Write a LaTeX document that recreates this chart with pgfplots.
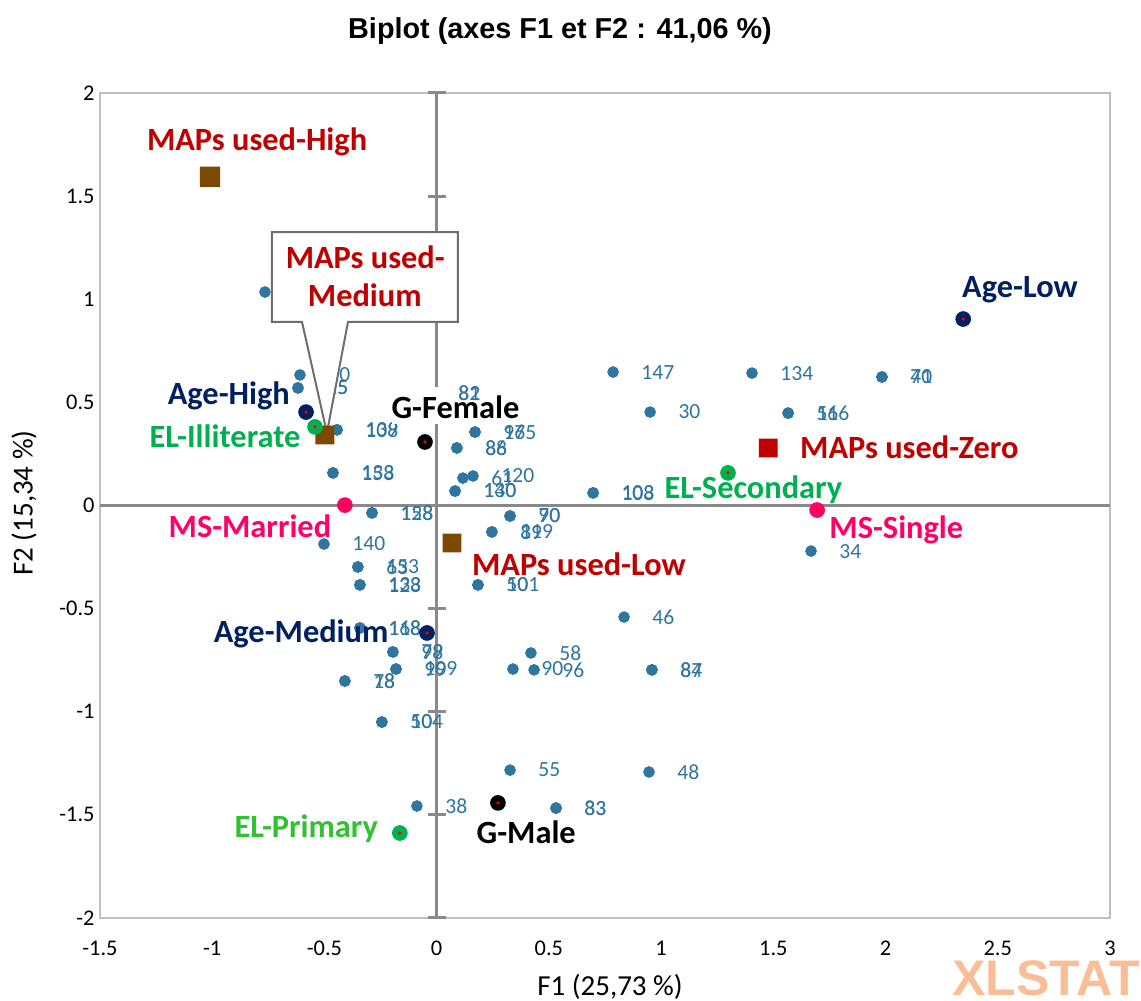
\documentclass[border=0pt]{standalone}
\usepackage{fontspec}
\setmainfont{Carlito}
\newfontfamily\arialfont{Liberation Sans}
\usepackage{pgfplots}
\pgfplotsset{compat=1.18}

\definecolor{obsblue}{HTML}{2E75A0}
\definecolor{mapsred}{HTML}{C00000}
\definecolor{mapsbrown}{HTML}{7B4A00}
\definecolor{agenavy}{HTML}{002060}
\definecolor{elgreen}{HTML}{00B050}
\definecolor{elgreenlight}{HTML}{33C033}
\definecolor{mspink}{HTML}{FF0066}
\definecolor{axgray}{HTML}{898989}
\definecolor{framegray}{HTML}{BFBFBF}
\definecolor{calloutgray}{HTML}{6E6E6E}
\definecolor{xlorange}{HTML}{F9BE96}

\tikzset{
  catlab/.style={font={\bfseries\fontsize{16.2}{19}\selectfont}, text height=10.4pt, text depth=0pt, inner sep=1pt},
  obsnode/.style={anchor=west, xshift=14pt, inner sep=0pt, font={\fontsize{10.8}{12}\selectfont}, text=obsblue},
}

\pgfplotsset{
  common/.style={
    width=505pt, height=412.5pt, scale only axis,
    xmin=-1.5, xmax=3, ymin=-2, ymax=2, clip=false,
    at={(0pt,0pt)}, anchor=south west,
  },
  obslab/.style={nodes near coords, point meta=explicit symbolic,
    every node near coord/.append style={obsnode}},
}

\pgfdeclareplotmark{rsq}{%
  \pgfsetcornersarced{\pgfpoint{0.4\pgfplotmarksize}{0.4\pgfplotmarksize}}%
  \pgfpathmoveto{\pgfpoint{0pt}{-\pgfplotmarksize}}%
  \pgfpathlineto{\pgfpoint{\pgfplotmarksize}{-\pgfplotmarksize}}%
  \pgfpathlineto{\pgfpoint{\pgfplotmarksize}{\pgfplotmarksize}}%
  \pgfpathlineto{\pgfpoint{-\pgfplotmarksize}{\pgfplotmarksize}}%
  \pgfpathlineto{\pgfpoint{-\pgfplotmarksize}{-\pgfplotmarksize}}%
  \pgfpathclose
  \pgfusepathqfill}

\pgfplotstableread{
x y lab
-0.765 1.035 12
-0.609 0.633 10
-0.618 0.570 55
-0.444 0.367 108
-0.462 0.158 133
0.171 0.356 165
0.090 0.279 86
0.117 0.133 61
0.162 0.143 120
0.082 0.070 130
0.697 0.061 108
-0.288 -0.036 128
-0.502 -0.187 140
-0.351 -0.298 63
-0.342 -0.385 133
0.184 -0.385 101
0.327 -0.051 70
0.246 -0.128 119
-0.342 -0.594 168
-0.195 -0.710 79
-0.181 -0.793 109
-0.409 -0.851 78
-0.244 -1.050 104
-0.088 -1.457 38
0.327 -1.283 55
0.532 -1.467 83
0.946 -1.292 48
0.420 -0.715 58
0.340 -0.793 90
0.434 -0.797 96
0.835 -0.541 46
0.959 -0.797 87
0.786 0.647 147
1.405 0.642 134
1.984 0.623 70
0.951 0.453 30
1.566 0.448 56
1.668 -0.221 34
}\obs

\pgfplotstableread{
x y lab
-0.618 0.570 25
-0.444 0.367 139
-0.462 0.158 158
0.171 0.356 97
0.090 0.279 88
0.082 0.070 140
0.697 0.061 103
-0.288 -0.036 158
-0.351 -0.298 153
-0.342 -0.385 128
0.184 -0.385 50
0.327 -0.051 90
0.246 -0.128 89
-0.342 -0.594 118
-0.195 -0.710 98
-0.181 -0.793 99
-0.409 -0.851 18
-0.244 -1.050 50
0.532 -1.467 33
0.959 -0.797 84
1.984 0.623 41
1.566 0.448 116
}\obsextra

\pgfplotstableread{
x y lab
-0.030 0.536 82
}\obshidden

\begin{document}
\begin{tikzpicture}
% ---------- base axis: frame, ticks, cross, observations ----------
\begin{axis}[
  common,
  xtick={-1.5,-1,-0.5,0,0.5,1,1.5,2,2.5,3},
  ytick={-2,-1.5,-1,-0.5,0,0.5,1,1.5,2},
  major tick length=0pt,
  axis line style={framegray, line width=1pt},
  /pgf/number format/assume math mode=true,
  tick label style={font={\fontsize{11.2}{13}\selectfont}, text=black},
  xticklabel style={anchor=center, yshift=-15pt},
  yticklabel style={anchor=east, xshift=-2.5pt, inner sep=0pt},
]
\coordinate (SW) at (rel axis cs:0,0);
\draw[axgray, line width=1.1pt] (axis cs:-1.5,0) -- (axis cs:3,0);
\draw[axgray, line width=1.5pt] (axis cs:0,-2) -- (axis cs:0,2);
\pgfplotsinvokeforeach{-2,-1.5,-1,-0.5,0.5,1,1.5,2}{
  \draw[axgray, line width=1.5pt] ([xshift=-4.5pt]axis cs:0,#1) -- ([xshift=4.5pt]axis cs:0,#1);
}
\addplot[only marks, mark=*, mark size=2.7pt, color=obsblue, obslab] table[meta=lab] {\obs};
\addplot[only marks, mark=*, mark size=2.7pt, color=obsblue, obslab] table[meta=lab] {\obsextra};
\addplot[only marks, mark=*, mark size=2.7pt, color=obsblue] table {\obshidden};
\end{axis}
% ---------- overlay axis: callout, category labels and points ----------
\begin{axis}[common, hide axis]
\draw[calloutgray, line width=1pt, fill=white, line join=miter]
  (axis cs:-0.734,1.326) -- (axis cs:0.095,1.326) -- (axis cs:0.095,0.890)
  -- (axis cs:-0.395,0.890) -- (axis cs:-0.489,0.352) -- (axis cs:-0.600,0.890)
  -- (axis cs:-0.734,0.890) -- cycle;
\node[catlab, text=mapsred] at (axis cs:-0.318,1.200) {MAPs used-};
\node[catlab, text=mapsred] at (axis cs:-0.320,1.016) {Medium};
\node[catlab, text=mapsred] at (axis cs:-0.800,1.772) {MAPs used-High};
\node[catlab, text=mapsred] at (axis cs:0.634,-0.288) {MAPs used-Low};
\node[catlab, text=mapsred] at (axis cs:2.106,0.279) {MAPs used-Zero};
\node[catlab, text=agenavy] at (axis cs:-0.926,0.541) {Age-High};
\node[catlab, text=agenavy] at (axis cs:-0.604,-0.613) {Age-Medium};
\node[catlab, text=agenavy] at (axis cs:2.599,1.059) {Age-Low};
\node[catlab, text=elgreen] at (axis cs:-0.943,0.332) {EL-Illiterate};
\node[catlab, text=elgreen] at (axis cs:1.411,0.085) {EL-Secondary};
\node[catlab, text=elgreenlight] at (axis cs:-0.581,-1.559) {EL-Primary};
\fill[white] (axis cs:-0.199,0.575) rectangle (axis cs:0.39,0.397);
\node[catlab, text=black] at (axis cs:0.084,0.473) {G-Female};
\node[catlab, text=black] at (axis cs:0.399,-1.588) {G-Male};
\node[catlab, text=mspink] at (axis cs:-0.832,-0.104) {MS-Married};
\node[catlab, text=mspink] at (axis cs:2.048,-0.109) {MS-Single};
\node[obsnode] at (axis cs:-0.030,0.545) {82};
\node[obsnode] at (axis cs:-0.030,0.545) {81};
\addplot[only marks, mark=rsq, mark size=5.1pt, color=mapsbrown] coordinates {(-1.010,1.593)};
\addplot[only marks, mark=rsq, mark size=4.7pt, color=mapsbrown] coordinates {(-0.498,0.342) (0.068,-0.182)};
\addplot[only marks, mark=rsq, mark size=4.7pt, color=mapsred] coordinates {(1.477,0.279)};
\addplot[only marks, mark=*, mark size=3.7pt, color=agenavy] coordinates {(-0.582,0.453) (-0.043,-0.618) (2.346,0.904)};
\addplot[only marks, mark=*, mark size=3.7pt, color=elgreen] coordinates {(-0.542,0.381) (1.298,0.158) (-0.164,-1.588)};
\addplot[only marks, mark=*, mark size=3.7pt, color=black] coordinates {(-0.052,0.308) (0.273,-1.442)};
\addplot[only marks, mark=*, mark size=3.7pt, color=mspink] coordinates {(-0.409,0.002) (1.695,-0.022)};
\addplot[only marks, mark=*, mark size=0.6pt, color=red] coordinates {(-0.582,0.453) (-0.043,-0.618) (2.346,0.904) (-0.542,0.381) (1.298,0.158) (-0.164,-1.588) (-0.052,0.308) (0.273,-1.442) (-0.409,0.002) (1.695,-0.022)};
\end{axis}
\begin{scope}[shift={(SW)}, xshift=-50pt, yshift=459pt, x=0.5pt, y=-0.5pt]
  \node[font={\arialfont\bfseries\fontsize{14.4}{17}\selectfont}] at (560,31) {Biplot (axes F1 et F2 : 41,06 \%)};
  \node[font={\fontsize{14.5}{17}\selectfont}] at (610,987) {F1 (25,73 \%)};
  \node[rotate=90, font={\fontsize{14.5}{17}\selectfont}] at (24,503) {F2 (15,34 \%)};
  \node[font={\arialfont\bfseries\fontsize{25}{30}\selectfont}, text=xlorange, inner sep=0pt, text depth=0pt] at (1046,978) {XLSTAT};
  \pgfresetboundingbox
  \path[use as bounding box] (0,0) rectangle (1141,1001);
\end{scope}
\end{tikzpicture}
\end{document}
